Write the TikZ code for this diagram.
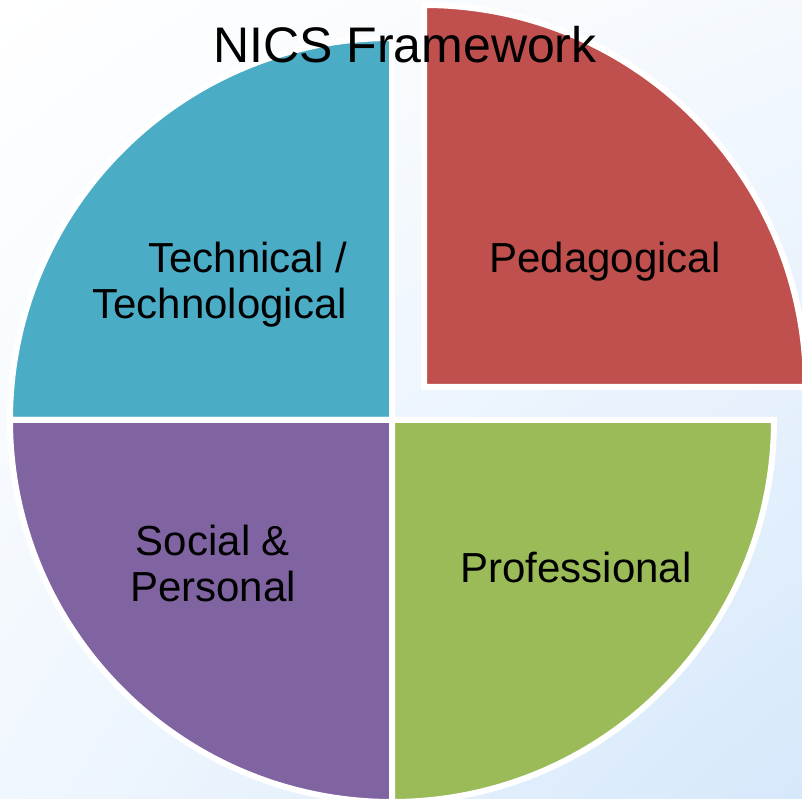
\documentclass[tikz,border=0pt]{standalone}
\usepackage{fontspec}
\setmainfont{Liberation Sans}
\usetikzlibrary{shadings}
\definecolor{bgblue}{RGB}{214,232,251}
\definecolor{sliceteal}{RGB}{75,172,198}
\definecolor{slicered}{RGB}{192,80,77}
\definecolor{slicegreen}{RGB}{155,187,89}
\definecolor{slicepurple}{RGB}{128,100,162}
\begin{document}
\begin{tikzpicture}[x=1pt,y=1pt]

    \tikzset{
      slice/.style={
        draw=white,
        line width=6pt,
        line join=miter,
      },
      label/.style={
        inner sep=0pt,
        font=\fontsize{42}{46}\selectfont,
      },
    }
    \useasboundingbox (0,0) rectangle (802,799);
    \shade[upper left=white,upper right=bgblue!25!white,lower left=bgblue!35!white,lower right=bgblue] (0,0) rectangle (802,799);
    \clip (0,0) rectangle (802,799);

    \coordinate (c) at (392,379);
    \coordinate (cr) at (424,412);
	\filldraw[slice,fill=sliceteal] (c)--++(180:382) arc[start angle=180,end angle=90,radius=382]--cycle;
	\filldraw[slice,fill=slicepurple] (c)--++(270:382) arc[start angle=270,end angle=180,radius=382]--cycle;
	\filldraw[slice,fill=slicegreen] (c)--++(0:382) arc[start angle=360,end angle=270,radius=382]--cycle;
	\filldraw[slice,fill=slicered] (cr)--++(90:382) arc[start angle=90,end angle=0,radius=382]--cycle;

	\node[label,anchor=base,font=\fontsize{50}{56}\selectfont] (title) at (405,736) {NICS Framework};
	\node[label,anchor=base] (ped) at (605,526) {Pedagogical};
	\node[label,anchor=base] (prof) at (576,216) {Professional};
	% base of a two-line node sits on its last line
	\node[label,anchor=base east,align=right] (tech) at (347,480) {Technical /\\Technological};
	\node[label,anchor=base,align=center] (soc) at (213,197) {Social \&\\Personal};

\end{tikzpicture}
\end{document}
